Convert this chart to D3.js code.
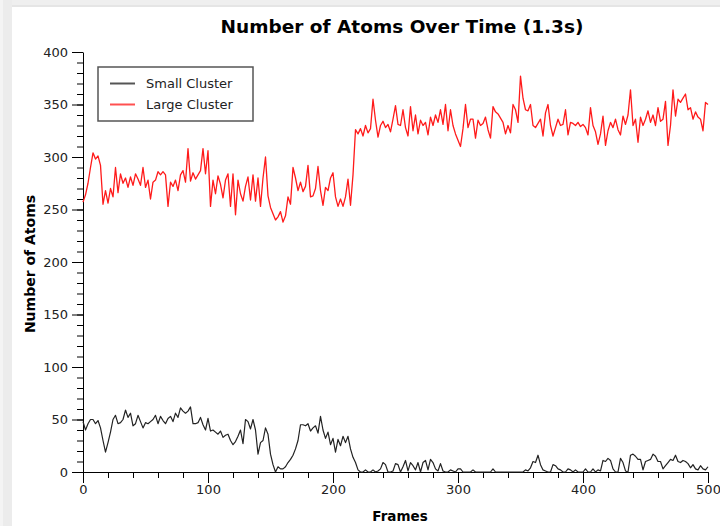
<!DOCTYPE html>
<html>
<head>
<meta charset="utf-8">
<script src="https://cdn.jsdelivr.net/npm/d3@7/dist/d3.min.js"></script>
<style>
  html, body { margin: 0; padding: 0; background: #fff; }
  svg { display: block; }
</style>
</head>
<body>
<svg id="chart" width="720" height="526"></svg>
<script>
// Cluster sizes sampled every 2 frames (frame 0 .. 500)
const frameStep = 2;

const largeCluster = [
  257,264,275,290,304,298,301,292,255,268,256,270,262,290,266,284,275,280,271,281,
  273,284,279,273,290,271,278,260,276,278,286,283,286,283,253,276,272,278,268,283,
  287,276,308,277,285,279,283,287,308,284,306,253,278,265,282,274,261,278,284,253,
  284,245,278,265,258,272,281,259,283,258,280,253,280,300,263,252,246,240,243,248,
  238,244,262,255,290,280,268,276,267,272,292,262,263,270,291,268,254,271,268,280,
  285,262,253,260,253,262,279,254,283,326,322,327,320,330,323,327,355,335,319,330,
  334,328,331,324,336,349,331,330,345,328,320,348,325,340,322,335,330,333,321,338,
  330,340,333,345,331,350,325,345,330,322,316,310,327,350,328,336,336,318,335,330,
  332,338,326,318,348,343,341,337,333,322,330,323,350,345,333,377,356,345,344,350,
  330,328,332,336,320,342,350,330,320,328,336,330,331,345,321,333,332,330,333,329,
  331,328,321,347,330,324,312,322,339,311,325,333,328,336,326,321,339,331,340,364,
  330,336,314,338,330,336,344,333,340,330,347,334,336,353,311,330,364,339,355,352,
  356,360,345,347,336,343,338,336,325,352,350
];

const smallCluster = [
  48,40,46,50,50,46,49,42,30,19,28,38,50,54,46,47,50,59,52,56,
  44,46,54,48,42,47,46,48,50,54,46,53,49,46,51,53,48,56,52,61,
  58,56,58,62,46,46,47,52,45,40,51,39,40,38,36,39,33,35,36,30,
  26,29,34,40,27,50,48,41,50,40,17,28,30,42,36,17,7,0,5,3,
  3,5,9,12,16,22,30,45,45,44,46,39,42,44,37,53,40,32,38,26,
  32,19,31,25,34,28,34,22,14,9,2,0,0,2,0,0,2,0,1,3,
  9,7,0,0,1,8,7,0,5,11,1,9,6,2,9,0,9,11,2,12,
  9,3,1,8,1,0,0,2,1,0,3,3,0,0,0,0,2,0,0,0,
  0,0,0,0,3,0,0,0,0,0,0,0,0,0,0,0,0,2,1,4,
  10,9,16,7,2,1,0,0,7,6,3,2,0,0,3,2,0,2,0,0,
  0,3,0,0,3,0,2,1,11,10,13,11,3,0,0,13,9,1,0,16,
  17,15,12,12,2,10,11,12,17,15,10,10,3,6,9,12,11,16,10,9,
  11,10,8,4,7,3,2,6,3,2,5
];

const seriesNames = ["Small Cluster", "Large Cluster"];
const xTickValues = [0, 100, 200, 300, 400, 500];
const yTickValues = [0, 50, 100, 150, 200, 250, 300, 350, 400];

const svg = d3.select("#chart");
const W = 720, H = 526;
const plot = { left: 83, right: 708, top: 52, bottom: 472 };

// window frame shading along the top and left edges
svg.append("rect").attr("x", 0).attr("y", 0).attr("width", W).attr("height", 7).attr("fill", "#efefef");
svg.append("rect").attr("x", 0).attr("y", 5).attr("width", W).attr("height", 2).attr("fill", "#e5e5e5");
svg.append("rect").attr("x", 0).attr("y", 0).attr("width", 12).attr("height", H).attr("fill", "#ececec");
svg.append("rect").attr("x", 0).attr("y", 0).attr("width", 3).attr("height", H).attr("fill", "#f4f4f4");

const x = d3.scaleLinear().domain([0, 500]).range([plot.left, plot.right]);
const y = d3.scaleLinear().domain([0, 400]).range([plot.bottom, plot.top]);

const font = "'DejaVu Sans', Verdana, sans-serif";

// title
svg.append("text")
  .attr("x", 402).attr("y", 33)
  .attr("text-anchor", "middle")
  .attr("font-family", font).attr("font-weight", "bold").attr("font-size", 18.5)
  .attr("fill", "#000")
  .text("Number of Atoms Over Time (1.3s)");

// minor ticks
const yMinor = d3.axisLeft(y).tickValues(d3.range(0, 401, 10)).tickSize(6).tickFormat("");
const xMinor = d3.axisBottom(x).tickValues(d3.range(0, 501, 20)).tickSize(6).tickFormat("");
svg.append("g").attr("transform", `translate(${plot.left},0)`).call(yMinor)
  .call(g => g.select(".domain").remove())
  .call(g => g.selectAll("line").attr("stroke", "#000"));
svg.append("g").attr("transform", `translate(0,${plot.bottom})`).call(xMinor)
  .call(g => g.select(".domain").remove())
  .call(g => g.selectAll("line").attr("stroke", "#000"));

// major axes
const yAxis = d3.axisLeft(y).tickValues(yTickValues).tickSize(11).tickSizeOuter(0).tickPadding(4);
const xAxis = d3.axisBottom(x).tickValues(xTickValues).tickSize(11).tickSizeOuter(0).tickPadding(2);

svg.append("g").attr("transform", `translate(${plot.left},0)`).call(yAxis)
  .call(g => g.select(".domain").attr("stroke", "#000"))
  .call(g => g.selectAll("line").attr("stroke", "#000"))
  .call(g => g.selectAll("text").attr("font-family", font).attr("font-size", 13).attr("fill", "#222"));

svg.append("g").attr("transform", `translate(0,${plot.bottom})`).call(xAxis)
  .call(g => g.select(".domain").attr("stroke", "#000"))
  .call(g => g.selectAll("line").attr("stroke", "#000"))
  .call(g => g.selectAll("text").attr("font-family", font).attr("font-size", 13).attr("fill", "#222"));

// axis titles
svg.append("text")
  .attr("transform", `translate(35,${(plot.top + plot.bottom) / 2 + 2}) rotate(-90)`)
  .attr("text-anchor", "middle")
  .attr("font-family", font).attr("font-weight", "bold").attr("font-size", 14)
  .attr("fill", "#000")
  .text("Number of Atoms");

svg.append("text")
  .attr("x", 400).attr("y", 521)
  .attr("text-anchor", "middle")
  .attr("font-family", font).attr("font-weight", "bold").attr("font-size", 13.5)
  .attr("fill", "#000")
  .text("Frames");

// series lines
const line = d3.line()
  .x((d, i) => x(i * frameStep))
  .y(d => y(d));

svg.append("path")
  .datum(largeCluster)
  .attr("fill", "none")
  .attr("stroke", "#ff1a1a")
  .attr("stroke-width", 1.3)
  .attr("stroke-linejoin", "round")
  .attr("d", line);

svg.append("path")
  .datum(smallCluster)
  .attr("fill", "none")
  .attr("stroke", "#222")
  .attr("stroke-width", 1.2)
  .attr("stroke-linejoin", "round")
  .attr("d", line);

// legend
const legend = svg.append("g").attr("transform", "translate(98,67)");
legend.append("rect")
  .attr("width", 155).attr("height", 54)
  .attr("fill", "#fff").attr("stroke", "#555").attr("stroke-width", 1.5);

const legendColors = ["#555", "#ff5050"];
seriesNames.forEach((name, i) => {
  const cy = 16.5 + i * 21;
  legend.append("line")
    .attr("x1", 12).attr("x2", 37).attr("y1", cy).attr("y2", cy)
    .attr("stroke", legendColors[i]).attr("stroke-width", 2);
  legend.append("text")
    .attr("x", 48).attr("y", cy + 4.5)
    .attr("font-family", font).attr("font-size", 13)
    .attr("fill", "#222")
    .text(name);
});
</script>
</body>
</html>
